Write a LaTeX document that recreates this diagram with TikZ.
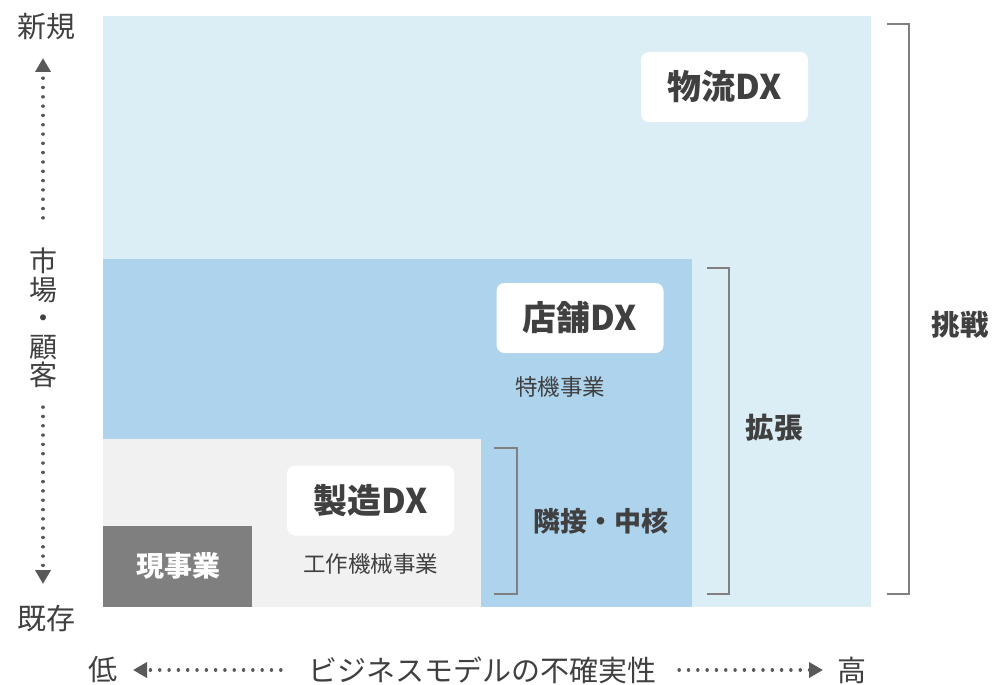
\documentclass[tikz,border=0pt]{standalone}
\usepackage{fontspec}
\setmainfont{Noto Sans CJK JP}
\usepackage{tikz}
\usetikzlibrary{positioning,arrows.meta}

\definecolor{challenge}{HTML}{DCEEF5}
\definecolor{expand}{HTML}{AED3EC}
\definecolor{core}{HTML}{F1F1F1}
\definecolor{current}{HTML}{7F7F7F}
\definecolor{txtgray}{HTML}{404040}
\definecolor{brkgray}{HTML}{808080}
\definecolor{axgray}{HTML}{595959}

\tikzset{
  lbl/.style={text=txtgray, inner sep=0pt, font=\fontsize{29}{29}\selectfont},
  tag/.style={text=txtgray, inner sep=0pt, font=\bfseries\fontsize{27}{29}\selectfont},
  dxbox/.style={fill=white, rounded corners=8pt, minimum width=167pt, minimum height=70pt,
    inner sep=0pt, text=txtgray, font=\bfseries\fontsize{34}{36}\selectfont},
  sublbl/.style={text=txtgray, inner sep=0pt, font=\fontsize{22.5}{24}\selectfont},
  brk/.style={draw=brkgray, line width=1.5pt},
  axis/.style={draw=axgray, line width=3.5pt, line cap=round, dash pattern=on 0.01pt off 9.3pt,
    -{Triangle[width=15pt,length=14pt]}}
}

\begin{document}
\begin{tikzpicture}[x=1pt,y=-1pt]
  \useasboundingbox (0,0) rectangle (993,685);

  % areas
  \fill[challenge] (103,16) rectangle (871,607);
  \fill[expand] (103,259) rectangle (692,607);
  \fill[core] (103,439) rectangle (481,607);
  \fill[current] (103,526) rectangle (252,607);

  \node[tag, text=white, font=\bfseries\fontsize{28}{29}\selectfont] (cur) at (178,566) {現事業};

  \node[dxbox] (logi) at (724.5,87) {物流DX};
  \node[dxbox] (store) at (580,318) {店舗DX};
  \node[dxbox] (mfg) at (370.5,500.5) {製造DX};
  \node[sublbl] (tokki) at (560,387) {特機事業};
  \node[sublbl, below=18pt of mfg] (tool) {工作機械事業};

  % brackets
  \draw[brk] (494,448) -- (517,448) -- (517,594) -- (494,594);
  \draw[brk] (707,268) -- (729,268) -- (729,594) -- (707,594);
  \draw[brk] (887,24) -- (909,24) -- (909,594) -- (887,594);

  \node[tag] (adj) at (601,521) {隣接・中核};
  \node[tag, font=\bfseries\fontsize{28.5}{29}\selectfont] (ext) at (774,428) {拡張};
  \node[tag, font=\bfseries\fontsize{28.5}{29}\selectfont] (chal) at (960,325) {挑戦};

  % vertical axis
  \node[lbl] (new) at (46,27) {新規};
  \node[lbl] (old) at (46,619) {既存};
  \node[lbl, align=center, font=\fontsize{28}{28.5}\selectfont] (mkt) at (43,318)
    {市\\場\\・\\顧\\客};
  \coordinate (vtop) at (43,58);
  \coordinate (vbot) at (43,584);
  \draw[axis] (mkt.north) ++(0,-30) coordinate (mtop) -- (vtop);
  \draw[axis] (mkt.south) ++(0,19) coordinate (mbot) -- (vbot);

  % horizontal axis
  \node[lbl] (low) at (103,670) {低};
  \node[lbl] (risk) at (482,670) {ビジネスモデルの不確実性};
  \node[lbl] (high) at (852,670) {高};
  \coordinate (hleft) at (133,670);
  \coordinate (hright) at (823,670);
  \draw[axis] (risk.west) ++(-27,0) coordinate (rl) -- (hleft);
  \draw[axis] (risk.east) ++(23,0) coordinate (rr) -- (hright);
\end{tikzpicture}
\end{document}
